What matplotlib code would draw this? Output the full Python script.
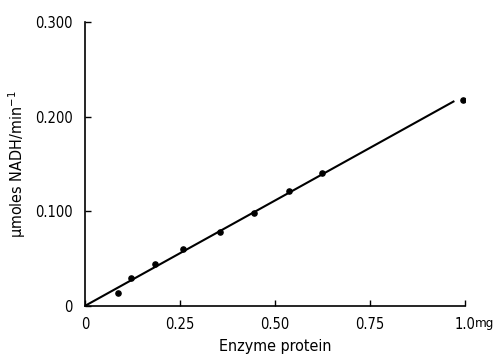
import matplotlib
matplotlib.use("Agg")
import matplotlib.pyplot as plt

# datos
proteina = [0.087, 0.121, 0.184, 0.258, 0.355, 0.445, 0.537, 0.624, 0.995]
actividad = [0.014, 0.030, 0.044, 0.060, 0.078, 0.098, 0.121, 0.141, 0.218]
recta_x = [0.0, 0.97]
recta_y = [0.0, 0.216]
xticks = [0, 0.25, 0.50, 0.75, 1.0]
xlabels = ["0", "0.25", "0.50", "0.75", "1.0"]
yticks = [0, 0.100, 0.200, 0.300]
ylabels = ["0", "0.100", "0.200", "0.300"]

plt.rcParams["font.family"] = ["DejaVu Sans"]
plt.rcParams["font.stretch"] = "condensed"

fig = plt.figure(figsize=(4.94, 3.62), dpi=100)
ax = fig.add_axes([0.172, 0.155, 0.769, 0.784])

ax.plot(recta_x, recta_y, color="black", linewidth=1.5)
ax.scatter(proteina, actividad, s=14, color="black", zorder=3)

ax.set_xlim(0, 1.0)
ax.set_ylim(0, 0.3)
ax.spines["top"].set_visible(False)
ax.spines["right"].set_visible(False)
ax.spines["left"].set_linewidth(1.2)
ax.spines["bottom"].set_linewidth(1.2)
ax.set_xticks(xticks)
ax.set_xticklabels(xlabels)
ax.set_yticks(yticks)
ax.set_yticklabels(ylabels)
ax.tick_params(direction="in", length=4, width=1, labelsize=10.5)
ax.tick_params(axis="x", pad=8)
ax.tick_params(axis="y", pad=9)
# unidad junto a la ultima marca
ax.annotate("mg", xy=(1.0, 0), xycoords=("data", "axes fraction"), xytext=(7, -12.5),
            textcoords="offset points", ha="left", va="center", fontsize=9.5)

ax.set_xlabel("Enzyme protein", fontsize=11.5, labelpad=5)
ax.set_ylabel("μmoles NADH/min$^{-1}$", fontsize=11.5, labelpad=5)

fig.savefig("out.png", dpi=100, facecolor="white")
